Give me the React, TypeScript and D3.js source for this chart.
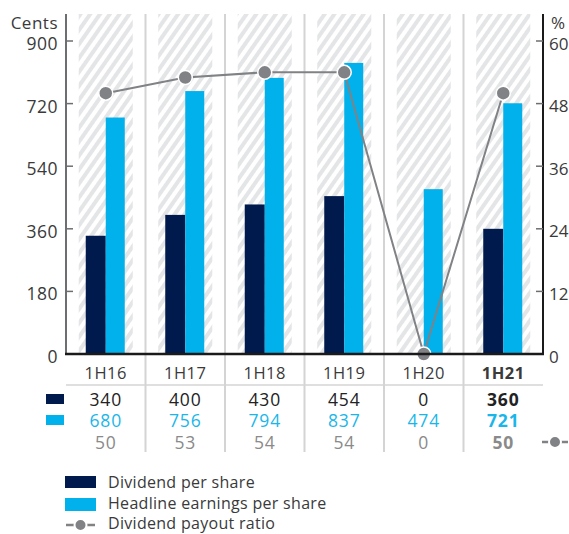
import React from "react";
import * as d3 from "d3";

const categories = ["1H16", "1H17", "1H18", "1H19", "1H20", "1H21"];
const dividend = [340, 400, 430, 454, 0, 360];
const eps = [680, 756, 794, 837, 474, 721];
const payout = [50, 53, 54, 54, 0, 50];
const leftTicks = [0, 180, 360, 540, 720, 900];
const rightTicks = [0, 12, 24, 36, 48, 60];

const FONT = "'Open Sans', sans-serif";
const NAVY = "#001a4d";
const CYAN = "#00b1eb";
const GRAY = "#808285";

export default function App() {
  const W = 569, H = 534;
  const x0 = 66, x1 = 543, yTop = 14, yBase = 354;
  const x = d3.scaleBand<string>().domain(categories).range([x0, x1]).padding(0);
  const yL = d3.scaleLinear().domain([0, 900]).range([yBase, 41]);
  const yR = d3.scaleLinear().domain([0, 60]).range([yBase, 41]);
  const bw = x.bandwidth();
  const cx = (c: string) => (x(c) as number) + bw / 2;
  const barW = 20;
  const hatchW = 54;
  const line = d3
    .line<number>()
    .x((_, i) => cx(categories[i]))
    .y((d) => yR(d));
  const last = categories.length - 1;
  const tickStyle = { letterSpacing: "0.5px" };
  const valStyle = { letterSpacing: "0.8px" };

  return (
    <svg
      width={W}
      height={H}
      style={{ position: "absolute", left: 0, top: 0, background: "#fff" }}
      fontFamily={FONT}
    >
      <defs>
        <pattern id="hatch" patternUnits="userSpaceOnUse" width="8" height="8" patternTransform="rotate(35)">
          <rect width="8" height="8" fill="#ffffff" />
          <rect width="4" height="8" fill="#e4e5e7" />
        </pattern>
      </defs>

      {/* hatched backgrounds */}
      {categories.map((c) => (
        <rect key={"h" + c} x={cx(c) - hatchW / 2} y={yTop} width={hatchW} height={yBase - yTop} fill="url(#hatch)" />
      ))}

      {/* column separators */}
      {categories.slice(1).map((c) => (
        <line key={"s" + c} x1={x(c) as number} x2={x(c) as number} y1={yTop} y2={452} stroke="#d4d4d4" strokeWidth={2} />
      ))}

      {/* bars */}
      {categories.map((c, i) => (
        <g key={"b" + c}>
          <rect x={cx(c) - barW} y={yL(dividend[i])} width={barW} height={yBase - yL(dividend[i])} fill={NAVY} />
          <rect x={cx(c)} y={yL(eps[i])} width={barW - 1} height={yBase - yL(eps[i])} fill={CYAN} />
        </g>
      ))}

      {/* payout line */}
      <path d={line(payout) as string} fill="none" stroke={GRAY} strokeWidth={2} />
      {payout.map((v, i) => (
        <circle key={"p" + i} cx={cx(categories[i])} cy={yR(v)} r={7} fill={GRAY} stroke="#fff" strokeWidth={1.5} />
      ))}

      {/* axes */}
      <line x1={x0} x2={x0} y1={yTop} y2={yBase} stroke="#6d6e71" strokeWidth={2} />
      <line x1={x1} x2={x1} y1={yTop} y2={yBase} stroke="#1a1a1a" strokeWidth={2} />
      <line x1={x0 - 1} x2={x1 + 1} y1={yBase} y2={yBase} stroke="#1a1a1a" strokeWidth={2.5} />
      {leftTicks.map((t) => (
        <g key={"lt" + t}>
          {t > 0 && <line x1={x0} x2={x0 + 7} y1={yL(t)} y2={yL(t)} stroke="#6d6e71" strokeWidth={1.5} />}
          <text x={58} y={yL(t) + 2} textAnchor="end" dominantBaseline="central" fontSize={17.5} fill="#3a3a3a" style={tickStyle}>
            {t}
          </text>
        </g>
      ))}
      {rightTicks.map((t) => (
        <g key={"rt" + t}>
          {t > 0 && <line x1={x1 - 7} x2={x1} y1={yR(t)} y2={yR(t)} stroke="#6d6e71" strokeWidth={1.5} />}
          <text x={549} y={yR(t) + 2} textAnchor="start" dominantBaseline="central" fontSize={17} fill="#3a3a3a">
            {t}
          </text>
        </g>
      ))}
      <text x={58} y={22} textAnchor="end" dominantBaseline="central" fontSize={17} fill="#3a3a3a" style={tickStyle}>
        Cents
      </text>
      <text x={551} y={22} textAnchor="start" dominantBaseline="central" fontSize={17} fill="#3a3a3a">
        %
      </text>

      {/* table */}
      <line x1={x0} x2={x1} y1={385} y2={385} stroke="#d4d4d4" strokeWidth={1.5} />
      {categories.map((c, i) => {
        const bold = i === last ? 700 : 400;
        return (
          <g key={"t" + c}>
            <text x={cx(c)} y={372} textAnchor="middle" dominantBaseline="central" fontSize={16.5} fill="#3a3a3a" fontWeight={bold} style={tickStyle}>
              {c}
            </text>
            <text x={cx(c)} y={399} textAnchor="middle" dominantBaseline="central" fontSize={17.5} fill="#222" fontWeight={bold} style={valStyle}>
              {dividend[i]}
            </text>
            <text x={cx(c)} y={420} textAnchor="middle" dominantBaseline="central" fontSize={17.5} fill="#1ab6ea" fontWeight={bold} style={valStyle}>
              {eps[i]}
            </text>
            <text x={cx(c)} y={442} textAnchor="middle" dominantBaseline="central" fontSize={17.5} fill="#8a8a8a" fontWeight={bold} style={valStyle}>
              {payout[i]}
            </text>
          </g>
        );
      })}
      <rect x={46} y={394} width={18} height={10} fill={NAVY} />
      <rect x={46} y={415} width={18} height={10} fill={CYAN} />
      <line x1={542} x2={568} y1={442} y2={442} stroke={GRAY} strokeWidth={2.5} />
      <circle cx={555} cy={442} r={6} fill={GRAY} stroke="#fff" strokeWidth={2} />

      {/* legend */}
      <rect x={65} y={476} width={31} height={12} fill={NAVY} />
      <text x={108} y={482} dominantBaseline="central" fontSize={16} fill="#3a3a3a" style={{ letterSpacing: "0.3px" }}>
        Dividend per share
      </text>
      <rect x={65} y={498} width={31} height={13} fill={CYAN} />
      <text x={108} y={503} dominantBaseline="central" fontSize={16} fill="#3a3a3a" style={{ letterSpacing: "0.3px" }}>
        Headline earnings per share
      </text>
      <line x1={66} x2={95} y1={525} y2={525} stroke={GRAY} strokeWidth={2.5} />
      <circle cx={80.5} cy={525} r={6} fill={GRAY} stroke="#fff" strokeWidth={2} />
      <text x={108} y={523} dominantBaseline="central" fontSize={16} fill="#3a3a3a" style={{ letterSpacing: "0.3px" }}>
        Dividend payout ratio
      </text>
    </svg>
  );
}
